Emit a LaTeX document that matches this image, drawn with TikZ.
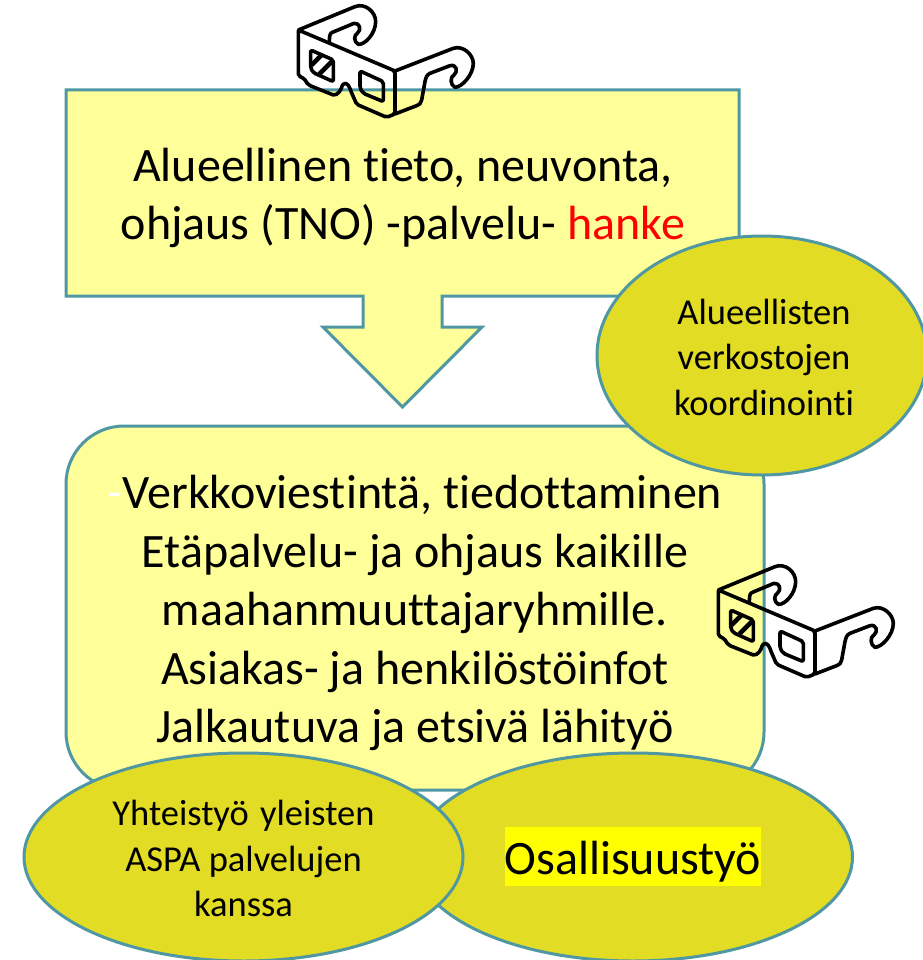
\documentclass[tikz,border=0pt]{standalone}
\usepackage{fontspec}
\setmainfont[Ligatures=NoCommon]{Carlito}
\usetikzlibrary{shapes.geometric}
\definecolor{edgeteal}{HTML}{4F97A3}
\definecolor{paleyellow}{HTML}{FFFF99}
\definecolor{olivefill}{HTML}{E3DC24}
\definecolor{markyellow}{RGB}{255,255,0}
\definecolor{hankered}{RGB}{255,0,0}
\tikzset{
  shapeline/.style={draw=edgeteal,line width=3pt},
  bigtext/.style={align=center,font=\fontsize{48}{58.5}\selectfont,inner sep=0pt},
  oval/.style={ellipse,shapeline,fill=olivefill,inner sep=0pt},
  ovaltext/.style={align=center,inner sep=0pt,font=\fontsize{36.5}{45.5}\selectfont},
  glassline/.style={draw=black,line width=3.6pt,line join=round,line cap=round}
}
\newcommand{\glassespic}{%
  \draw[glassline,rounded corners=2pt] (55,90) -- (345,213) -- (345,342) -- (320,352) -- (230,313) -- (212,272)
     .. controls (205,250) and (190,240) .. (182,272) -- (165,287) -- (85,255) -- (72,235) -- (55,228) -- cycle;
  \draw[glassline] (55,90) -- (225,20) .. controls (255,8) and (287,35) .. (287,65)
     .. controls (287,100) and (255,135) .. (235,133) .. controls (220,125) and (222,105) .. (232,100)
     .. controls (245,90) and (240,68) .. (222,70) -- (155,98) .. controls (148,102) and (148,115) .. (148,125);
  \draw[glassline] (345,213) -- (520,145) .. controls (550,135) and (580,165) .. (580,190)
     .. controls (580,225) and (545,262) .. (525,262) .. controls (510,255) and (510,230) .. (522,225)
     .. controls (535,215) and (530,192) .. (510,197) -- (450,220) .. controls (440,225) and (438,232) .. (435,245)
     -- (425,300) .. controls (423,310) and (420,312) .. (410,317) -- (345,342);
  \draw[glassline,rounded corners=2pt] (92,150) -- (160,180) -- (160,245) -- (100,218) -- (92,205) -- cycle;
  \begin{scope}
    \clip (92,150) -- (160,180) -- (160,245) -- (100,218) -- (92,205) -- cycle;
    \draw[black,line width=4.5pt] (94,196) -- (130,160) (118,222) -- (164,176);
  \end{scope}
  \draw[glassline,rounded corners=2pt] (240,213) -- (310,245) -- (310,305) -- (250,280) -- (240,265) -- cycle;
}
\begin{document}
\begin{tikzpicture}[x=1pt,y=-1pt]
\useasboundingbox (0,0) rectangle (922,960);
\fill[white] (0,0) rectangle (922,960);
% top box with down arrow
\draw[shapeline,fill=paleyellow,line join=miter]
  (66,90) -- (739,90) -- (739,296) -- (442,296) -- (442,327) -- (482,327) -- (402.5,407)
  -- (323,327) -- (363,327) -- (363,296) -- (66,296) -- cycle;
\node[bigtext] (title) at (403,198) {Alueellinen tieto, neuvonta,\\ohjaus (TNO) -palvelu- \textcolor{hankered}{hanke}};
% lower box
\draw[shapeline,fill=paleyellow,rounded corners=58pt] (66,426) rectangle (764,790);
\node[bigtext] (services) at (415,613) {\textcolor{white}{-}Verkkoviestintä, tiedottaminen\\Etäpalvelu- ja ohjaus kaikille\\maahanmuuttajaryhmille.\\Asiakas- ja henkilöstöinfot\\Jalkautuva ja etsivä lähityö};
% ovals
\node[oval,minimum width=330pt,minimum height=239pt] (network) at (762,355.5) {};
\node[ovaltext] (networktext) at (764,357) {Alueellisten\\verkostojen\\koordinointi};
\node[oval,minimum width=439pt,minimum height=208pt] (participation) at (633,857) {};
\node[fill=markyellow,inner sep=0pt,text height=42pt,text depth=6pt,minimum width=256pt,minimum height=59pt,font=\fontsize{48}{58}\selectfont] (parttext) at (633,856.5) {Osallisuustyö};
\node[oval,minimum width=439pt,minimum height=208pt] (cooperation) at (243.5,857) {};
\node[ovaltext] (cooperationtext) at (243.5,858.5) {Yhteistyö\hspace{3pt} yleisten\\ASPA palvelujen\\kanssa};
% glasses
\begin{scope}[shift={(280,0)},x=0.3333pt,y=-0.3333pt]
\glassespic
\end{scope}
\begin{scope}[shift={(700,560)},x=0.3333pt,y=-0.3333pt]
\glassespic
\end{scope}
\end{tikzpicture}
\end{document}
